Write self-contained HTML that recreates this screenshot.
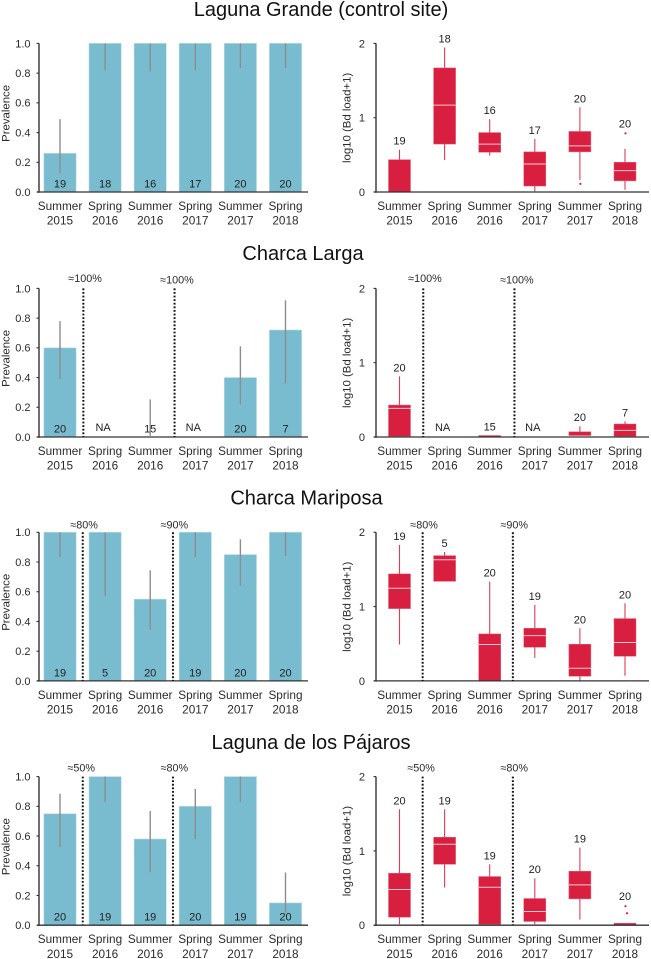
<!DOCTYPE html>
<html lang="en">
<head>
<meta charset="utf-8">
<title>Prevalence and Bd load by site</title>
<style>
html,body{margin:0;padding:0;background:#fff;}
svg{display:block;font-family:"Liberation Sans",Arial,sans-serif;}
.title{font-size:20px;fill:#111;text-anchor:middle;}
</style>
</head>
<body>
<svg id="fig" width="651" height="959" viewBox="0 0 651 959" xmlns="http://www.w3.org/2000/svg">
<rect x="0" y="0" width="651" height="959" fill="#fff"/>
<text class="title" x="321" y="16">Laguna Grande (control site)</text>
<text class="title" x="303" y="260">Charca Larga</text>
<text class="title" x="306.5" y="504.5">Charca Mariposa</text>
<text class="title" x="311" y="749">Laguna de los Pájaros</text>
</svg>
<script>
const seasons = ['Summer','Spring','Summer','Spring','Summer','Spring'];
const years = ['2015','2016','2016','2017','2017','2018'];
const prevTicks = ['0.0','0.2','0.4','0.6','0.8','1.0'];
const loadTicks = ['0','1','2'];

// Laguna Grande
const lgPrev = [0.26,1,1,1,1,1];
const lgCiLow = [0.125,0.82,0.81,0.82,0.835,0.835];
const lgCiHigh = [0.49,1,1,1,1,1];
const lgN = ['19','18','16','17','20','20'];
const lgQ1 = [0,0.645,0.535,0.08,0.54,0.15];
const lgMed = [0,1.17,0.645,0.377,0.62,0.287];
const lgQ3 = [0.435,1.67,0.80,0.54,0.815,0.40];
const lgHi = [0.57,1.945,0.98,0.713,1.14,0.58];
const lgLo = [0,0.43,0.49,0.01,0.16,0.03];
const lgOut = [[],[],[],[],[0.11],[0.79]];
const lgNotes = [];

// Charca Larga
const clPrev = [0.6,null,0,null,0.4,0.72];
const clCiLow = [0.39,null,0,null,0.22,0.36];
const clCiHigh = [0.78,null,0.253,null,0.61,0.92];
const clN = ['20','NA','15','NA','20','7'];
const clQ1 = [0.01,null,0,null,0.02,0.01];
const clMed = [0.385,null,0.005,null,0.03,0.09];
const clQ3 = [0.43,null,0.02,null,0.07,0.175];
const clHi = [0.816,null,0.02,null,0.145,0.21];
const clLo = [0.01,null,0,null,0.02,0.01];
const clOut = [[],[],[],[],[],[]];
const clNotes = ['≈100%','≈100%'];

// Charca Mariposa
const cmPrev = [1,1,0.55,1,0.85,1];
const cmCiLow = [0.833,0.573,0.344,0.833,0.643,0.84];
const cmCiHigh = [1,1,0.744,1,0.953,1];
const cmN = ['19','5','20','19','20','20'];
const cmQ1 = [0.973,1.34,0,0.453,0.063,0.332];
const cmMed = [1.247,1.63,0.49,0.61,0.17,0.516];
const cmQ3 = [1.44,1.686,0.632,0.708,0.493,0.839];
const cmHi = [1.83,1.735,1.336,1.022,0.708,1.045];
const cmLo = [0.49,1.34,0,0.31,0,0.07];
const cmOut = [[],[],[],[],[],[]];
const cmNotes = ['≈80%','≈90%'];

// Laguna de los Pajaros
const lpPrev = [0.75,1,0.58,0.8,1,0.15];
const lpCiLow = [0.526,0.83,0.357,0.578,0.83,0.08];
const lpCiHigh = [0.885,1,0.769,0.917,1,0.355];
const lpN = ['20','19','19','20','19','20'];
const lpQ1 = [0.108,0.82,0.013,0.05,0.354,0];
const lpMed = [0.48,1.09,0.511,0.184,0.543,0.003];
const lpQ3 = [0.70,1.184,0.655,0.359,0.726,0.027];
const lpHi = [1.56,1.56,0.82,0.632,1.045,0.027];
const lpLo = [0.013,0.507,0.013,0.013,0.076,0];
const lpOut = [[],[],[],[],[],[0.256,0.161]];
const lpNotes = ['≈50%','≈80%'];

const svg = document.getElementById('fig');
const NS = 'http://www.w3.org/2000/svg';
const plotH = 148.6;
const stepX = 45.1;
const INK = '#2b2b2b';

function mk(tag, attrs, parent, txt) {
  const n = document.createElementNS(NS, tag);
  for (const k in attrs) n.setAttribute(k, attrs[k]);
  if (txt !== undefined) n.textContent = txt;
  (parent || svg).appendChild(n);
  return n;
}

function axes(g, key, x0, x1, top, cx0, ticks, yMax, yTitle, titleX, titleY, tickX, tickFrom) {
  const bottom = top + plotH;
  ticks.forEach(function (t) {
    const y = bottom - (parseFloat(t) / yMax) * plotH;
    const tick = mk('line', {x1: tickFrom, x2: x0, y1: y, y2: y, stroke: '#333', 'stroke-width': 1.1}, g);
    
    
    const lab = mk('text', {x: tickX, y: y + 3.9, 'text-anchor': 'end', 'font-size': 11, fill: INK}, g, t);
    
    
  });
  const yl = mk('line', {x1: x0, x2: x0, y1: top, y2: bottom + 0.7, stroke: '#333', 'stroke-width': 1.4}, g);
  
  
  const xl = mk('line', {x1: x0 - 2, x2: x1, y1: bottom, y2: bottom, stroke: '#333', 'stroke-width': 1.3}, g);
  
  
  const yt = mk('text', {x: 0, y: 0, 'text-anchor': 'middle', 'font-size': 11.4, fill: INK,
    transform: 'translate(' + titleX + ',' + titleY + ') rotate(-90)'}, g, yTitle);
  
  
  seasons.forEach(function (s, i) {
    const cx = cx0 + i * stepX;
    const a = mk('text', {x: cx, y: bottom + 18, 'text-anchor': 'middle', 'font-size': 11.8, fill: INK}, g, s);
    
    
    const b = mk('text', {x: cx, y: bottom + 32.6, 'text-anchor': 'middle', 'font-size': 11.8, fill: INK}, g, years[i]);
    
    
  });
}

function dividers(g, key, cx0, top, notes, shift, noteRaise) {
  notes.forEach(function (note, i) {
    const x = cx0 + (i * 2 + 0.5) * stepX + shift[i];
    const l = mk('line', {x1: x, x2: x, y1: top, y2: top + plotH, stroke: '#111', 'stroke-width': 2, 'stroke-dasharray': '1.8 1.8'}, g);
    
    
    const t = mk('text', {x: x + noteRaise.dx[i], y: top - noteRaise.dy[i], 'text-anchor': 'middle', 'font-size': 10.8, fill: INK}, g, note);
    
    
  });
}

function prevalencePanel(key, top, prev, lo, hi, n, notes, shift, noteRaise) {
  const g = mk('g', {});
  
  
  const cx0 = 60;
  const bottom = top + plotH;
  const y = function (v) { return bottom - v * plotH; };
  prev.forEach(function (v, i) {
    if (v === null || v === 0) return;
    const cx = cx0 + i * stepX;
    const bar = mk('rect', {x: cx - 16.1, y: y(v), width: 32.2, height: bottom - y(v), fill: '#7abccf', stroke: '#b5dbe5', 'stroke-width': 0.6}, g);
    
    
  });
  axes(g, key + '-prevalence', 39, 308, top, cx0, prevTicks, 1, 'Prevalence', 9.5, top + 70, 30.5, 36.5);
  dividers(g, key + '-prevalence', cx0, top, notes, shift, noteRaise);
  prev.forEach(function (v, i) {
    const cx = cx0 + i * stepX;
    if (hi[i] !== null) {
      const ci = mk('line', {x1: cx, x2: cx, y1: y(hi[i]), y2: y(lo[i]), stroke: '#8d8d8d', 'stroke-width': 1.4}, g);
      
      
    }
    const isNA = n[i] === 'NA';
    const t = mk('text', {x: cx + (isNA ? -2 : 0), y: bottom - (isNA ? 6 : 4.6), 'text-anchor': 'middle', 'font-size': 11, fill: '#222'}, g, n[i]);
    
    
  });
}

function loadPanel(key, top, q1, med, q3, hi, lo, out, n, notes, shift, noteRaise) {
  const g = mk('g', {});
  
  
  const cx0 = 399.5;
  const bottom = top + plotH;
  const y = function (v) { return bottom - (v / 2) * plotH; };
  q1.forEach(function (v, i) {
    if (v === null) return;
    const cx = cx0 + i * stepX;
    const w = mk('line', {x1: cx, x2: cx, y1: y(hi[i]), y2: y(lo[i]), stroke: '#de3d58', 'stroke-width': 1.1}, g);
    
    
    const box = mk('rect', {x: cx - 11, y: y(q3[i]), width: 22, height: Math.max(y(v) - y(q3[i]), 0.6), fill: '#d81f3f', stroke: '#e4607a', 'stroke-width': 0.5}, g);
    
    
    if (med[i] > 0.06) {
      const m = mk('line', {x1: cx - 11, x2: cx + 11, y1: y(med[i]), y2: y(med[i]), stroke: '#f7c9d1', 'stroke-width': 1}, g);
      
      
    }
    out[i].forEach(function (o, j) {
      const d = mk('circle', {cx: cx + j * 1.5 + 0.5, cy: y(o), r: 1.1, fill: '#d81f3f'}, g);
      
      
    });
  });
  axes(g, key + '-load', 376, 649, top, cx0, loadTicks, 2, 'log10 (Bd load+1)', 350.5, top + 74.5, 365, 373.5);
  dividers(g, key + '-load', cx0, top, notes, shift.map(function (s) { return s + 0.6; }), noteRaise);
  n.forEach(function (label, i) {
    const cx = cx0 + i * stepX;
    let yText;
    if (label === 'NA') {
      yText = bottom - 6;
    } else {
      const tops = [hi[i]].concat(out[i]);
      const topValue = Math.max.apply(null, tops);
      yText = y(topValue) - (topValue > hi[i] ? 6 : 5);
    }
    const t = mk('text', {x: cx + (label === 'NA' ? -2 : 0), y: yText, 'text-anchor': 'middle', 'font-size': 11, fill: '#222'}, g, label);
    
    
  });
}

const clRaise = {dx: [1.7, 2.4], dy: [6.5, 5]};
const cmRaise = {dx: [1.4, 1.4], dy: [4, 4]};
const lpRaise = {dx: [-1.5, 1.4], dy: [5, 5]};

prevalencePanel('laguna-grande', 43.4, lgPrev, lgCiLow, lgCiHigh, lgN, lgNotes, [], {dx: [], dy: []});
loadPanel('laguna-grande', 43.4, lgQ1, lgMed, lgQ3, lgHi, lgLo, lgOut, lgN, lgNotes, [], {dx: [], dy: []});

prevalencePanel('charca-larga', 288.4, clPrev, clCiLow, clCiHigh, clN, clNotes, [0.8, 1.8], clRaise);
loadPanel('charca-larga', 288.4, clQ1, clMed, clQ3, clHi, clLo, clOut, clN, clNotes, [0.6, 1.6], clRaise);

prevalencePanel('charca-mariposa', 532.3, cmPrev, cmCiLow, cmCiHigh, cmN, cmNotes, [0.2, 0.2], cmRaise);
loadPanel('charca-mariposa', 532.3, cmQ1, cmMed, cmQ3, cmHi, cmLo, cmOut, cmN, cmNotes, [0, 0], cmRaise);

prevalencePanel('laguna-de-los-pajaros', 776.6, lpPrev, lpCiLow, lpCiHigh, lpN, lpNotes, [0.2, 0.2], lpRaise);
loadPanel('laguna-de-los-pajaros', 776.6, lpQ1, lpMed, lpQ3, lpHi, lpLo, lpOut, lpN, lpNotes, [0, 0], lpRaise);
</script>
</body>
</html>
